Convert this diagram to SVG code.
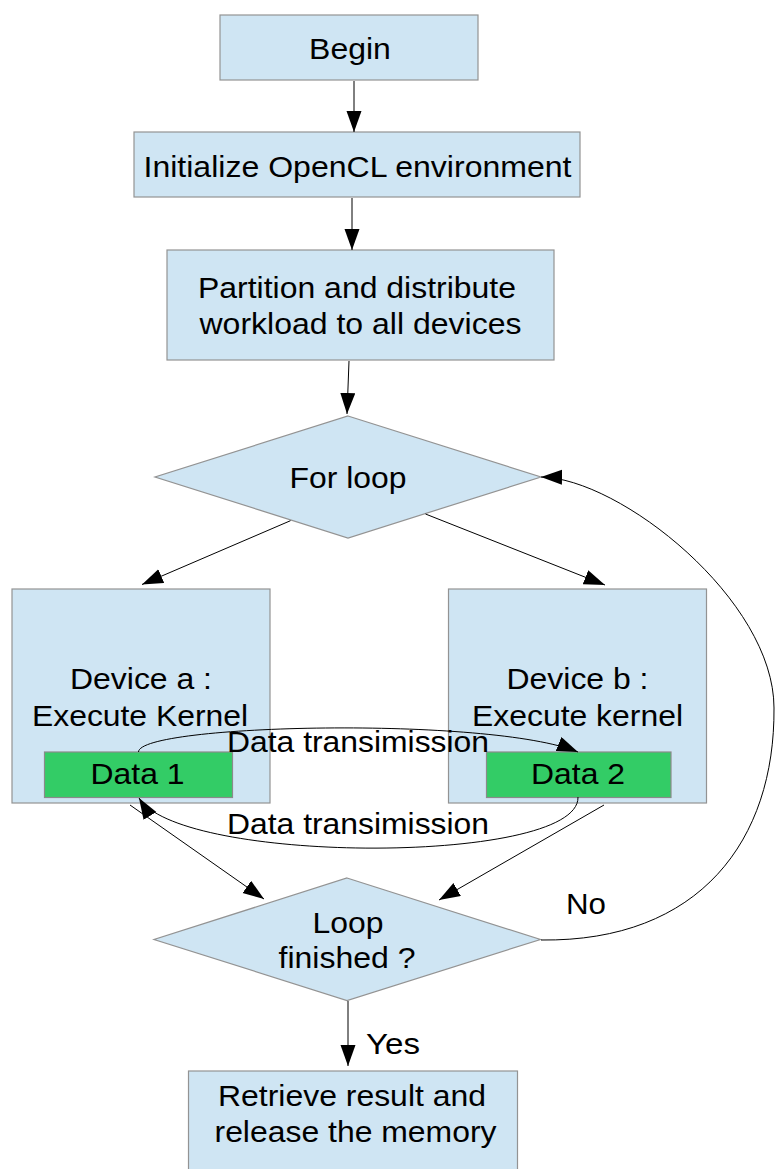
<svg xmlns="http://www.w3.org/2000/svg" width="775" height="1169" viewBox="0 0 775 1169">
<defs>
<style>
.box{fill:#cfe5f3;stroke:#939393;stroke-width:1.2}
.data{fill:#33cc66;stroke:#8a8a8a;stroke-width:1.2}
.t{font-family:"Liberation Sans",Arial,sans-serif;font-size:29px;fill:#000;text-anchor:middle}
.c{fill:none;stroke:#000;stroke-width:1}
</style>
<marker id="ah" markerUnits="userSpaceOnUse" markerWidth="22" markerHeight="16" refX="21" refY="7.5" orient="auto" viewBox="0 0 22 16">
<path d="M0,0 L21,7.5 L0,15 z" fill="#000"/>
</marker>
</defs>
<rect width="775" height="1169" fill="#fff"/>
<g id="begin">
<rect class="box" x="220" y="15" width="258" height="65"/>
<text class="t" x="350" y="58.5" textLength="81.8" lengthAdjust="spacingAndGlyphs">Begin</text>
</g>
<g id="init">
<rect class="box" x="134" y="132" width="446" height="65"/>
<text class="t" x="357.5" y="176.5" textLength="428" lengthAdjust="spacingAndGlyphs">Initialize OpenCL environment</text>
</g>
<g id="partition">
<rect class="box" x="167" y="250" width="387" height="110"/>
<text class="t" x="357" y="297.5" textLength="318" lengthAdjust="spacingAndGlyphs">Partition and distribute</text>
<text class="t" x="360.5" y="333.5" textLength="322" lengthAdjust="spacingAndGlyphs">workload to all devices</text>
</g>
<g id="forloop">
<polygon class="box" points="348,416 541,477 348,538 155,477"/>
<text class="t" x="348" y="488" textLength="117" lengthAdjust="spacingAndGlyphs">For loop</text>
</g>
<g id="devicea">
<rect class="box" x="12" y="589" width="258" height="214"/>
<text class="t" x="141" y="689" textLength="142" lengthAdjust="spacingAndGlyphs">Device a :</text>
<text class="t" x="140" y="726" textLength="216" lengthAdjust="spacingAndGlyphs">Execute Kernel</text>
</g>
<g id="data1">
<rect class="data" x="44.5" y="752" width="188" height="45.5"/>
<text class="t" x="137.5" y="784" textLength="94" lengthAdjust="spacingAndGlyphs">Data 1</text>
</g>
<g id="deviceb">
<rect class="box" x="448.5" y="589" width="258" height="214"/>
<text class="t" x="577.5" y="689" textLength="142" lengthAdjust="spacingAndGlyphs">Device b :</text>
<text class="t" x="577.5" y="726" textLength="211" lengthAdjust="spacingAndGlyphs">Execute kernel</text>
</g>
<g id="data2">
<rect class="data" x="486.5" y="752" width="184.5" height="45.5"/>
<text class="t" x="578" y="784" textLength="94" lengthAdjust="spacingAndGlyphs">Data 2</text>
</g>
<g id="loopfinished">
<polygon class="box" points="347,878 540.5,939.5 347,1000.5 154,939.5"/>
<text class="t" x="348" y="932.5" textLength="71" lengthAdjust="spacingAndGlyphs">Loop</text>
<text class="t" x="347" y="967.5" textLength="137" lengthAdjust="spacingAndGlyphs">finished ?</text>
</g>
<g id="retrieve">
<rect class="box" x="188.5" y="1071" width="329" height="110"/>
<text class="t" x="352" y="1106" textLength="268" lengthAdjust="spacingAndGlyphs">Retrieve result and</text>
<text class="t" x="355.5" y="1142" textLength="282" lengthAdjust="spacingAndGlyphs">release the memory</text>
</g>
<g id="connectors">
<path class="c" d="M354,81 L354,132" marker-end="url(#ah)"/>
<path class="c" d="M352,198 L352,250" marker-end="url(#ah)"/>
<path class="c" d="M349,361 L347,414" marker-end="url(#ah)"/>
<path class="c" d="M290.5,520.7 L142,584.5" marker-end="url(#ah)"/>
<path class="c" d="M425.5,514 L605,585" marker-end="url(#ah)"/>
<path class="c" d="M130,805 L264,899" marker-end="url(#ah)"/>
<path class="c" d="M604,805 L439,900" marker-end="url(#ah)"/>
<path class="c" d="M348,1001 L348,1066" stroke="#555" marker-end="url(#ah)"/>
<path class="c" d="M541,940 C700,942 775,840 774,708 C774,600 620,478 541,477" marker-end="url(#ah)"/>
<path class="c" d="M138.5,752 C139,724 490,716 578,752" marker-end="url(#ah)"/>
<path class="c" d="M578,797 C580,865 180,865 139,798" marker-end="url(#ah)"/>
<text class="t" x="358" y="751.5" textLength="262" lengthAdjust="spacingAndGlyphs">Data transimission</text>
<text class="t" x="358" y="833.5" textLength="262" lengthAdjust="spacingAndGlyphs">Data transimission</text>
<text class="t" x="586" y="913.5" textLength="40" lengthAdjust="spacingAndGlyphs">No</text>
<text class="t" x="393" y="1053.5" textLength="54" lengthAdjust="spacingAndGlyphs">Yes</text>
</g>
</svg>
